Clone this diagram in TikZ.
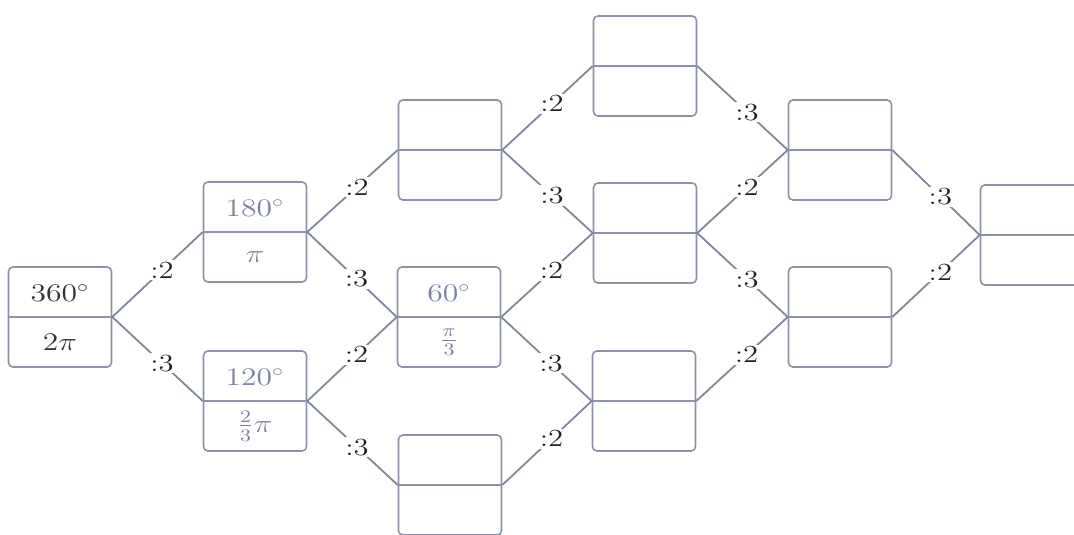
\documentclass[tikz,border=0pt]{standalone}
\usepackage{amsmath}
\usepackage{graphicx}
\definecolor{boxc}{HTML}{8C93A8}
\definecolor{linec}{HTML}{7E869E}
\definecolor{bluet}{HTML}{7A84A0}
\definecolor{darkt}{HTML}{333333}
\definecolor{labc}{HTML}{222222}
\newcommand{\wt}[1]{\scalebox{1.25}[1]{#1}}
\begin{document}
\begin{tikzpicture}[x=0.02cm,y=-0.02cm, font=\fontsize{14}{16}\selectfont,
  box/.style={draw=boxc, line width=0.9pt, rounded corners=2.5pt, minimum width=2.06cm, minimum height=2cm, inner sep=0pt, fill=white},
  mid/.style={draw=boxc, line width=0.9pt},
  conn/.style={draw=linec, line width=1pt},
  lab/.style={fill=white, inner sep=1pt, text=labc},
  tb/.style={text=bluet},
  td/.style={text=darkt}]
\clip (0,0) rectangle (1074,534);
% boxes
\node[box] (b1) at (60,317) {};
\node[box] (b2a) at (255,232) {};
\node[box] (b2b) at (255,401) {};
\node[box] (b3t) at (450,150) {};
\node[box] (b3m) at (449,317) {};
\node[box] (b3b) at (450,485) {};
\node[box] (b4t) at (645,66) {};
\node[box] (b4m) at (645,233) {};
\node[box] (b4b) at (644,401) {};
\node[box] (b5t) at (840,150) {};
\node[box] (b5b) at (840,317) {};
\node[box] (b6) at (1032,235) {};
\foreach \n in {b1,b2a,b2b,b3t,b3m,b3b,b4t,b4m,b4b,b5t,b5b,b6}
  \draw[mid] (\n.west) -- (\n.east);
% texts
\node[td] (t1u) at (60,293) {\wt{$360^\circ$}};
\node[td] (t1d) at (60,342) {\wt{$2\pi$}};
\node[tb] (t2au) at (255,208) {\wt{$180^\circ$}};
\node[tb] (t2ad) at (255,257) {\wt{$\pi$}};
\node[tb] (t2bu) at (255,377) {\wt{$120^\circ$}};
\node[tb] (t2bd) at (255,426) {\wt{$\tfrac{2}{3}\pi$}};
\node[tb] (t3mu) at (449,293) {\wt{$60^\circ$}};
\node[tb] (t3md) at (449,342) {\wt{$\tfrac{\pi}{3}$}};
% connectors
\draw[conn] (b1.east) -- node[lab,pos=0.55]{\wt{:2}} (b2a.west);
\draw[conn] (b1.east) -- node[lab,pos=0.55]{\wt{:3}} (b2b.west);
\draw[conn] (b2a.east) -- node[lab,pos=0.55]{\wt{:2}} (b3t.west);
\draw[conn] (b2a.east) -- node[lab,pos=0.55]{\wt{:3}} (b3m.west);
\draw[conn] (b2b.east) -- node[lab,pos=0.55]{\wt{:2}} (b3m.west);
\draw[conn] (b2b.east) -- node[lab,pos=0.55]{\wt{:3}} (b3b.west);
\draw[conn] (b3t.east) -- node[lab,pos=0.55]{\wt{:2}} (b4t.west);
\draw[conn] (b3t.east) -- node[lab,pos=0.55]{\wt{:3}} (b4m.west);
\draw[conn] (b3m.east) -- node[lab,pos=0.55]{\wt{:2}} (b4m.west);
\draw[conn] (b3m.east) -- node[lab,pos=0.55]{\wt{:3}} (b4b.west);
\draw[conn] (b3b.east) -- node[lab,pos=0.55]{\wt{:2}} (b4b.west);
\draw[conn] (b4t.east) -- node[lab,pos=0.55]{\wt{:3}} (b5t.west);
\draw[conn] (b4m.east) -- node[lab,pos=0.55]{\wt{:2}} (b5t.west);
\draw[conn] (b4m.east) -- node[lab,pos=0.55]{\wt{:3}} (b5b.west);
\draw[conn] (b4b.east) -- node[lab,pos=0.55]{\wt{:2}} (b5b.west);
\draw[conn] (b5t.east) -- node[lab,pos=0.55]{\wt{:3}} (b6.west);
\draw[conn] (b5b.east) -- node[lab,pos=0.55]{\wt{:2}} (b6.west);
\end{tikzpicture}
\end{document}
